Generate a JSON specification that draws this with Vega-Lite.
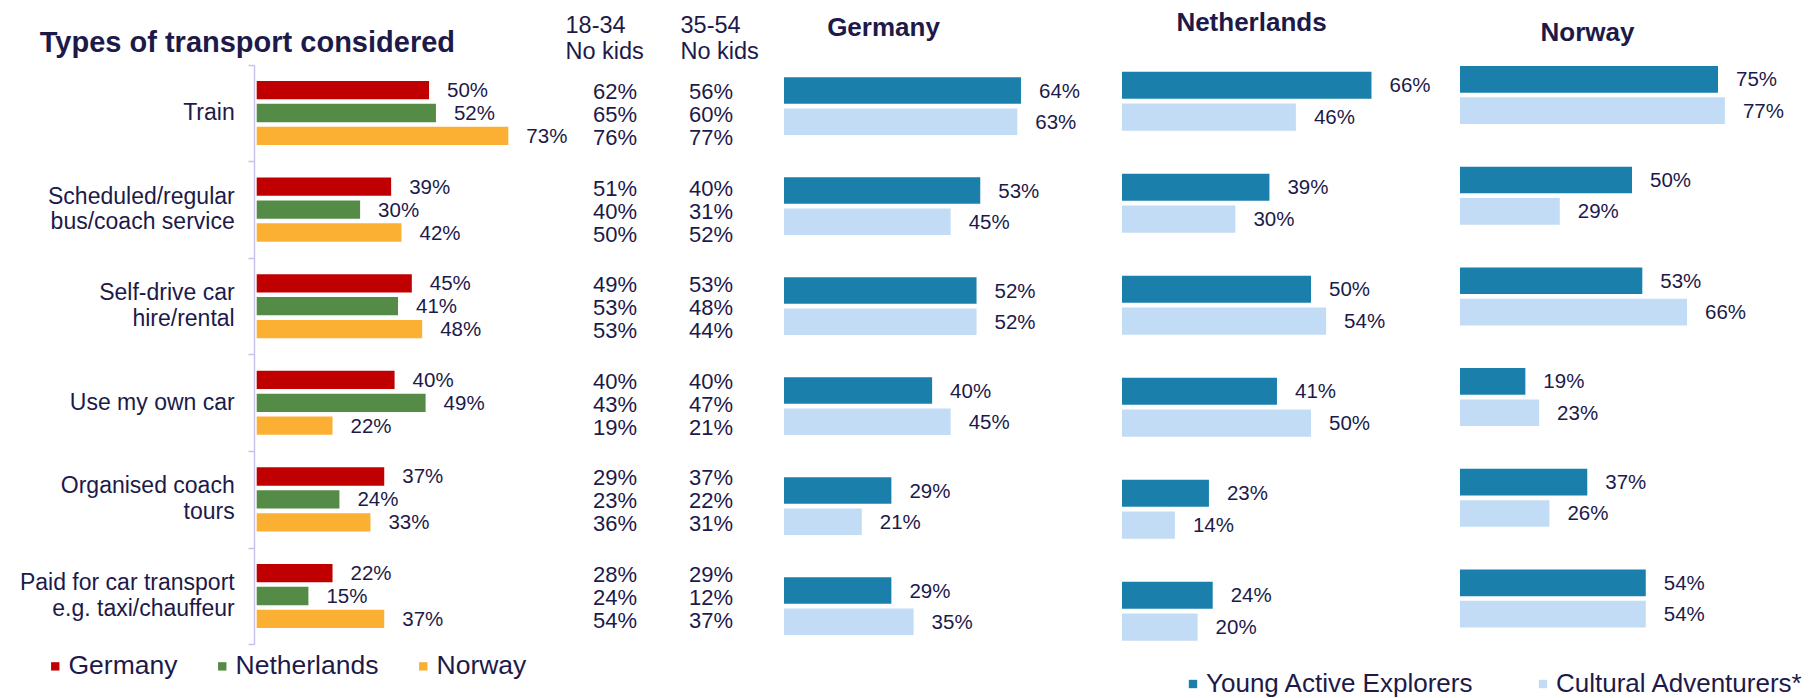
{
  "$schema": "https://vega.github.io/schema/vega-lite/v6.json",
  "width": 1814,
  "height": 698,
  "autosize": "none",
  "padding": 0,
  "background": "white",
  "config": {
    "font": "Liberation Sans",
    "view": {"stroke": null},
    "axis": {"grid": false}
  },
  "datasets": {
    "catlabels": [
      {"cat": "Train", "lines": ["Train"]},
      {"cat": "Scheduled/regular|bus/coach service", "lines": ["Scheduled/regular", "bus/coach service"]},
      {"cat": "Self-drive car|hire/rental", "lines": ["Self-drive car", "hire/rental"]},
      {"cat": "Use my own car", "lines": ["Use my own car"]},
      {"cat": "Organised coach|tours", "lines": ["Organised coach", "tours"]},
      {"cat": "Paid for car transport|e.g. taxi/chauffeur", "lines": ["Paid for car transport", "e.g. taxi/chauffeur"]}
    ],
    "left": [
      {"cat": "Train", "country": "Germany", "v": 0.50},
      {"cat": "Train", "country": "Netherlands", "v": 0.52},
      {"cat": "Train", "country": "Norway", "v": 0.73},
      {"cat": "Scheduled/regular|bus/coach service", "country": "Germany", "v": 0.39},
      {"cat": "Scheduled/regular|bus/coach service", "country": "Netherlands", "v": 0.30},
      {"cat": "Scheduled/regular|bus/coach service", "country": "Norway", "v": 0.42},
      {"cat": "Self-drive car|hire/rental", "country": "Germany", "v": 0.45},
      {"cat": "Self-drive car|hire/rental", "country": "Netherlands", "v": 0.41},
      {"cat": "Self-drive car|hire/rental", "country": "Norway", "v": 0.48},
      {"cat": "Use my own car", "country": "Germany", "v": 0.40},
      {"cat": "Use my own car", "country": "Netherlands", "v": 0.49},
      {"cat": "Use my own car", "country": "Norway", "v": 0.22},
      {"cat": "Organised coach|tours", "country": "Germany", "v": 0.37},
      {"cat": "Organised coach|tours", "country": "Netherlands", "v": 0.24},
      {"cat": "Organised coach|tours", "country": "Norway", "v": 0.33},
      {"cat": "Paid for car transport|e.g. taxi/chauffeur", "country": "Germany", "v": 0.22},
      {"cat": "Paid for car transport|e.g. taxi/chauffeur", "country": "Netherlands", "v": 0.15},
      {"cat": "Paid for car transport|e.g. taxi/chauffeur", "country": "Norway", "v": 0.37}
    ],
    "cols": [
      {"cat": "Train", "country": "Germany", "grp": "18-34|No kids", "v": 0.62},
      {"cat": "Train", "country": "Germany", "grp": "35-54|No kids", "v": 0.56},
      {"cat": "Train", "country": "Netherlands", "grp": "18-34|No kids", "v": 0.65},
      {"cat": "Train", "country": "Netherlands", "grp": "35-54|No kids", "v": 0.60},
      {"cat": "Train", "country": "Norway", "grp": "18-34|No kids", "v": 0.76},
      {"cat": "Train", "country": "Norway", "grp": "35-54|No kids", "v": 0.77},
      {"cat": "Scheduled/regular|bus/coach service", "country": "Germany", "grp": "18-34|No kids", "v": 0.51},
      {"cat": "Scheduled/regular|bus/coach service", "country": "Germany", "grp": "35-54|No kids", "v": 0.40},
      {"cat": "Scheduled/regular|bus/coach service", "country": "Netherlands", "grp": "18-34|No kids", "v": 0.40},
      {"cat": "Scheduled/regular|bus/coach service", "country": "Netherlands", "grp": "35-54|No kids", "v": 0.31},
      {"cat": "Scheduled/regular|bus/coach service", "country": "Norway", "grp": "18-34|No kids", "v": 0.50},
      {"cat": "Scheduled/regular|bus/coach service", "country": "Norway", "grp": "35-54|No kids", "v": 0.52},
      {"cat": "Self-drive car|hire/rental", "country": "Germany", "grp": "18-34|No kids", "v": 0.49},
      {"cat": "Self-drive car|hire/rental", "country": "Germany", "grp": "35-54|No kids", "v": 0.53},
      {"cat": "Self-drive car|hire/rental", "country": "Netherlands", "grp": "18-34|No kids", "v": 0.53},
      {"cat": "Self-drive car|hire/rental", "country": "Netherlands", "grp": "35-54|No kids", "v": 0.48},
      {"cat": "Self-drive car|hire/rental", "country": "Norway", "grp": "18-34|No kids", "v": 0.53},
      {"cat": "Self-drive car|hire/rental", "country": "Norway", "grp": "35-54|No kids", "v": 0.44},
      {"cat": "Use my own car", "country": "Germany", "grp": "18-34|No kids", "v": 0.40},
      {"cat": "Use my own car", "country": "Germany", "grp": "35-54|No kids", "v": 0.40},
      {"cat": "Use my own car", "country": "Netherlands", "grp": "18-34|No kids", "v": 0.43},
      {"cat": "Use my own car", "country": "Netherlands", "grp": "35-54|No kids", "v": 0.47},
      {"cat": "Use my own car", "country": "Norway", "grp": "18-34|No kids", "v": 0.19},
      {"cat": "Use my own car", "country": "Norway", "grp": "35-54|No kids", "v": 0.21},
      {"cat": "Organised coach|tours", "country": "Germany", "grp": "18-34|No kids", "v": 0.29},
      {"cat": "Organised coach|tours", "country": "Germany", "grp": "35-54|No kids", "v": 0.37},
      {"cat": "Organised coach|tours", "country": "Netherlands", "grp": "18-34|No kids", "v": 0.23},
      {"cat": "Organised coach|tours", "country": "Netherlands", "grp": "35-54|No kids", "v": 0.22},
      {"cat": "Organised coach|tours", "country": "Norway", "grp": "18-34|No kids", "v": 0.36},
      {"cat": "Organised coach|tours", "country": "Norway", "grp": "35-54|No kids", "v": 0.31},
      {"cat": "Paid for car transport|e.g. taxi/chauffeur", "country": "Germany", "grp": "18-34|No kids", "v": 0.28},
      {"cat": "Paid for car transport|e.g. taxi/chauffeur", "country": "Germany", "grp": "35-54|No kids", "v": 0.29},
      {"cat": "Paid for car transport|e.g. taxi/chauffeur", "country": "Netherlands", "grp": "18-34|No kids", "v": 0.24},
      {"cat": "Paid for car transport|e.g. taxi/chauffeur", "country": "Netherlands", "grp": "35-54|No kids", "v": 0.12},
      {"cat": "Paid for car transport|e.g. taxi/chauffeur", "country": "Norway", "grp": "18-34|No kids", "v": 0.54},
      {"cat": "Paid for car transport|e.g. taxi/chauffeur", "country": "Norway", "grp": "35-54|No kids", "v": 0.37}
    ],
    "right": [
      {"panel": "Germany", "cat": "Train", "seg": "Young Active Explorers", "v": 0.64},
      {"panel": "Germany", "cat": "Train", "seg": "Cultural Adventurers*", "v": 0.63},
      {"panel": "Germany", "cat": "Scheduled/regular|bus/coach service", "seg": "Young Active Explorers", "v": 0.53},
      {"panel": "Germany", "cat": "Scheduled/regular|bus/coach service", "seg": "Cultural Adventurers*", "v": 0.45},
      {"panel": "Germany", "cat": "Self-drive car|hire/rental", "seg": "Young Active Explorers", "v": 0.52},
      {"panel": "Germany", "cat": "Self-drive car|hire/rental", "seg": "Cultural Adventurers*", "v": 0.52},
      {"panel": "Germany", "cat": "Use my own car", "seg": "Young Active Explorers", "v": 0.40},
      {"panel": "Germany", "cat": "Use my own car", "seg": "Cultural Adventurers*", "v": 0.45},
      {"panel": "Germany", "cat": "Organised coach|tours", "seg": "Young Active Explorers", "v": 0.29},
      {"panel": "Germany", "cat": "Organised coach|tours", "seg": "Cultural Adventurers*", "v": 0.21},
      {"panel": "Germany", "cat": "Paid for car transport|e.g. taxi/chauffeur", "seg": "Young Active Explorers", "v": 0.29},
      {"panel": "Germany", "cat": "Paid for car transport|e.g. taxi/chauffeur", "seg": "Cultural Adventurers*", "v": 0.35},
      {"panel": "Netherlands", "cat": "Train", "seg": "Young Active Explorers", "v": 0.66},
      {"panel": "Netherlands", "cat": "Train", "seg": "Cultural Adventurers*", "v": 0.46},
      {"panel": "Netherlands", "cat": "Scheduled/regular|bus/coach service", "seg": "Young Active Explorers", "v": 0.39},
      {"panel": "Netherlands", "cat": "Scheduled/regular|bus/coach service", "seg": "Cultural Adventurers*", "v": 0.30},
      {"panel": "Netherlands", "cat": "Self-drive car|hire/rental", "seg": "Young Active Explorers", "v": 0.50},
      {"panel": "Netherlands", "cat": "Self-drive car|hire/rental", "seg": "Cultural Adventurers*", "v": 0.54},
      {"panel": "Netherlands", "cat": "Use my own car", "seg": "Young Active Explorers", "v": 0.41},
      {"panel": "Netherlands", "cat": "Use my own car", "seg": "Cultural Adventurers*", "v": 0.50},
      {"panel": "Netherlands", "cat": "Organised coach|tours", "seg": "Young Active Explorers", "v": 0.23},
      {"panel": "Netherlands", "cat": "Organised coach|tours", "seg": "Cultural Adventurers*", "v": 0.14},
      {"panel": "Netherlands", "cat": "Paid for car transport|e.g. taxi/chauffeur", "seg": "Young Active Explorers", "v": 0.24},
      {"panel": "Netherlands", "cat": "Paid for car transport|e.g. taxi/chauffeur", "seg": "Cultural Adventurers*", "v": 0.20},
      {"panel": "Norway", "cat": "Train", "seg": "Young Active Explorers", "v": 0.75},
      {"panel": "Norway", "cat": "Train", "seg": "Cultural Adventurers*", "v": 0.77},
      {"panel": "Norway", "cat": "Scheduled/regular|bus/coach service", "seg": "Young Active Explorers", "v": 0.50},
      {"panel": "Norway", "cat": "Scheduled/regular|bus/coach service", "seg": "Cultural Adventurers*", "v": 0.29},
      {"panel": "Norway", "cat": "Self-drive car|hire/rental", "seg": "Young Active Explorers", "v": 0.53},
      {"panel": "Norway", "cat": "Self-drive car|hire/rental", "seg": "Cultural Adventurers*", "v": 0.66},
      {"panel": "Norway", "cat": "Use my own car", "seg": "Young Active Explorers", "v": 0.19},
      {"panel": "Norway", "cat": "Use my own car", "seg": "Cultural Adventurers*", "v": 0.23},
      {"panel": "Norway", "cat": "Organised coach|tours", "seg": "Young Active Explorers", "v": 0.37},
      {"panel": "Norway", "cat": "Organised coach|tours", "seg": "Cultural Adventurers*", "v": 0.26},
      {"panel": "Norway", "cat": "Paid for car transport|e.g. taxi/chauffeur", "seg": "Young Active Explorers", "v": 0.54},
      {"panel": "Norway", "cat": "Paid for car transport|e.g. taxi/chauffeur", "seg": "Cultural Adventurers*", "v": 0.54}
    ]
  },
  "layer": [
    {
      "data": {"name": "left"},
      "encoding": {
        "y": {
          "field": "cat", "type": "nominal",
          "scale": {"domain": ["Train", "Scheduled/regular|bus/coach service", "Self-drive car|hire/rental", "Use my own car", "Organised coach|tours", "Paid for car transport|e.g. taxi/chauffeur"], "range": [64.7, 644.3], "paddingInner": 0, "paddingOuter": 0},
          "axis": {"orient": "left", "offset": -254, "title": null, "domain": true, "domainColor": "#c9c2ee", "domainWidth": 1.5, "ticks": true, "tickBand": "extent", "tickSize": 6, "tickColor": "#c9c2ee", "tickWidth": 1.5, "labels": false}
        },
        "yOffset": {"field": "country", "scale": {"domain": ["Germany", "Netherlands", "Norway"], "paddingInner": 0.2, "paddingOuter": 0.709}},
        "x": {
          "field": "v", "type": "quantitative",
          "scale": {"domain": [0, 1], "range": [256.7, 601.4]},
          "axis": {"orient": "top", "domain": false, "ticks": false, "labels": false, "title": "Types of transport considered", "titleX": 39.3, "titleY": 51.7, "titleAlign": "left", "titleBaseline": "alphabetic", "titleAngle": 0, "titleFontSize": 29, "titleFontWeight": "bold", "titleColor": "#1d1a4a"}
        }
      },
      "layer": [
        {
          "mark": {"type": "bar"},
          "encoding": {
            "color": {
              "field": "country", "type": "nominal",
              "scale": {"domain": ["Germany", "Netherlands", "Norway"], "range": ["#c00000", "#548b46", "#fbb034"]},
              "legend": {"orient": "none", "legendX": 42, "legendY": 653, "direction": "horizontal", "title": null, "symbolType": "square", "symbolSize": 70, "symbolStrokeWidth": 0, "labelFontSize": 26.5, "labelColor": "#1d1a4a", "labelOffset": 0, "columnPadding": 31, "padding": 0, "labelLimit": 400}
            }
          }
        },
        {
          "mark": {"type": "text", "align": "left", "baseline": "middle", "dx": 18, "dy": 1, "fontSize": 20.5, "color": "#1d1a4a"},
          "encoding": {"text": {"field": "v", "type": "quantitative", "format": ".0%"}}
        }
      ]
    },
    {
      "data": {"name": "catlabels"},
      "encoding": {
        "y": {
          "field": "cat", "type": "nominal",
          "scale": {"type": "band", "domain": ["Train", "Scheduled/regular|bus/coach service", "Self-drive car|hire/rental", "Use my own car", "Organised coach|tours", "Paid for car transport|e.g. taxi/chauffeur"], "range": [64.7, 644.3], "paddingInner": 0, "paddingOuter": 0},
          "axis": null
        },
        "x": {"datum": 0, "type": "quantitative", "scale": {"domain": [0, 1], "range": [256.7, 601.4]}, "axis": null},
        "text": {"field": "lines", "type": "nominal"}
      },
      "layer": [
        {
          "transform": [{"filter": "length(datum.lines) == 1"}],
          "mark": {"type": "text", "align": "right", "baseline": "middle", "dx": -22, "fontSize": 23, "color": "#1d1a4a"}
        },
        {
          "transform": [{"filter": "length(datum.lines) > 1"}],
          "mark": {"type": "text", "align": "right", "baseline": "line-bottom", "dx": -22, "fontSize": 23, "lineHeight": 25.5, "color": "#1d1a4a"}
        }
      ]
    },
    {
      "data": {"name": "cols"},
      "mark": {"type": "text", "align": "center", "baseline": "middle", "dy": 2, "fontSize": 22, "color": "#1d1a4a", "dx": {"expr": "datum.grp == '18-34|No kids' ? 50 : 31"}},
      "encoding": {
        "y": {
          "field": "cat", "type": "nominal",
          "scale": {"type": "band", "domain": ["Train", "Scheduled/regular|bus/coach service", "Self-drive car|hire/rental", "Use my own car", "Organised coach|tours", "Paid for car transport|e.g. taxi/chauffeur"], "range": [64.7, 644.3], "paddingInner": 0, "paddingOuter": 0},
          "axis": null
        },
        "yOffset": {"field": "country", "scale": {"type": "band", "domain": ["Germany", "Netherlands", "Norway"], "paddingInner": 0.2, "paddingOuter": 0.709}},
        "x": {
          "field": "grp", "type": "nominal",
          "scale": {"type": "point", "domain": ["18-34|No kids", "35-54|No kids"], "range": [565, 680], "padding": 0},
          "axis": {"orient": "top", "offset": -32.7, "title": null, "domain": false, "ticks": false, "tickSize": 0, "labelPadding": 0, "labelAngle": 0, "labelAlign": "left", "labelBaseline": "alphabetic", "labelFontSize": 23.5, "labelColor": "#1d1a4a", "labelExpr": "split(datum.label, '|')", "labelLineHeight": 25.5, "labelLimit": 400}
        },
        "text": {"field": "v", "type": "quantitative", "format": ".0%"}
      }
    },
    {
      "data": {"name": "right"},
      "transform": [{"filter": "datum.panel == 'Germany'"}],
      "encoding": {
        "y": {
          "field": "cat", "type": "nominal",
          "scale": {"domain": ["Train", "Scheduled/regular|bus/coach service", "Self-drive car|hire/rental", "Use my own car", "Organised coach|tours", "Paid for car transport|e.g. taxi/chauffeur"], "range": [77.3, 635], "paddingInner": 0.423, "paddingOuter": 0},
          "axis": null
        },
        "yOffset": {"field": "seg", "scale": {"domain": ["Young Active Explorers", "Cultural Adventurers*"], "paddingInner": 0.15, "paddingOuter": 0}},
        "x": {
          "field": "v", "type": "quantitative",
          "scale": {"domain": [0, 1], "range": [784, 1154.3]},
          "axis": {"orient": "top", "domain": false, "ticks": false, "labels": false, "title": "Germany", "titleX": 883, "titleY": 35.3, "titleAlign": "center", "titleBaseline": "alphabetic", "titleAngle": 0, "titleFontSize": 26, "titleFontWeight": "bold", "titleColor": "#1d1a4a"}
        }
      },
      "layer": [
        {
          "mark": {"type": "bar"},
          "encoding": {
            "color": {
              "field": "seg", "type": "nominal",
              "scale": {"domain": ["Young Active Explorers", "Cultural Adventurers*"], "range": ["#1a80ab", "#c2dcf5"]},
              "legend": {"orient": "none", "legendX": 1180, "legendY": 671, "direction": "horizontal", "title": null, "symbolType": "square", "symbolSize": 70, "symbolStrokeWidth": 0, "labelFontSize": 26, "labelColor": "#1d1a4a", "labelOffset": 0, "columnPadding": 56, "padding": 0, "labelLimit": 400}
            }
          }
        },
        {
          "mark": {"type": "text", "align": "left", "baseline": "middle", "dx": 18, "dy": 1, "fontSize": 20.5, "color": "#1d1a4a"},
          "encoding": {"text": {"field": "v", "type": "quantitative", "format": ".0%"}}
        }
      ]
    },
    {
      "data": {"name": "right"},
      "transform": [{"filter": "datum.panel == 'Netherlands'"}],
      "encoding": {
        "y": {
          "field": "cat", "type": "nominal",
          "scale": {"domain": ["Train", "Scheduled/regular|bus/coach service", "Self-drive car|hire/rental", "Use my own car", "Organised coach|tours", "Paid for car transport|e.g. taxi/chauffeur"], "range": [71.7, 640.7], "paddingInner": 0.4216, "paddingOuter": 0},
          "axis": null
        },
        "yOffset": {"field": "seg", "scale": {"domain": ["Young Active Explorers", "Cultural Adventurers*"], "paddingInner": 0.15, "paddingOuter": 0}},
        "x": {
          "field": "v", "type": "quantitative",
          "scale": {"domain": [0, 1], "range": [1122, 1500]},
          "axis": {"orient": "top", "domain": false, "ticks": false, "labels": false, "title": "Netherlands", "titleX": 1251, "titleY": 30.7, "titleAlign": "center", "titleBaseline": "alphabetic", "titleAngle": 0, "titleFontSize": 26, "titleFontWeight": "bold", "titleColor": "#1d1a4a"}
        }
      },
      "layer": [
        {
          "mark": {"type": "bar"},
          "encoding": {
            "color": {
              "field": "seg", "type": "nominal",
              "scale": {"domain": ["Young Active Explorers", "Cultural Adventurers*"], "range": ["#1a80ab", "#c2dcf5"]},
              "legend": null
            }
          }
        },
        {
          "mark": {"type": "text", "align": "left", "baseline": "middle", "dx": 18, "dy": 1, "fontSize": 20.5, "color": "#1d1a4a"},
          "encoding": {"text": {"field": "v", "type": "quantitative", "format": ".0%"}}
        }
      ]
    },
    {
      "data": {"name": "right"},
      "transform": [{"filter": "datum.panel == 'Norway'"}],
      "encoding": {
        "y": {
          "field": "cat", "type": "nominal",
          "scale": {"domain": ["Train", "Scheduled/regular|bus/coach service", "Self-drive car|hire/rental", "Use my own car", "Organised coach|tours", "Paid for car transport|e.g. taxi/chauffeur"], "range": [66, 627.5], "paddingInner": 0.424, "paddingOuter": 0},
          "axis": null
        },
        "yOffset": {"field": "seg", "scale": {"domain": ["Young Active Explorers", "Cultural Adventurers*"], "paddingInner": 0.15, "paddingOuter": 0}},
        "x": {
          "field": "v", "type": "quantitative",
          "scale": {"domain": [0, 1], "range": [1460, 1804]},
          "axis": {"orient": "top", "domain": false, "ticks": false, "labels": false, "title": "Norway", "titleX": 1587, "titleY": 40, "titleAlign": "center", "titleBaseline": "alphabetic", "titleAngle": 0, "titleFontSize": 26, "titleFontWeight": "bold", "titleColor": "#1d1a4a"}
        }
      },
      "layer": [
        {
          "mark": {"type": "bar"},
          "encoding": {
            "color": {
              "field": "seg", "type": "nominal",
              "scale": {"domain": ["Young Active Explorers", "Cultural Adventurers*"], "range": ["#1a80ab", "#c2dcf5"]},
              "legend": null
            }
          }
        },
        {
          "mark": {"type": "text", "align": "left", "baseline": "middle", "dx": 18, "dy": 1, "fontSize": 20.5, "color": "#1d1a4a"},
          "encoding": {"text": {"field": "v", "type": "quantitative", "format": ".0%"}}
        }
      ]
    }
  ],
  "resolve": {"scale": {"x": "independent", "y": "independent", "color": "independent", "yOffset": "independent"}}
}
